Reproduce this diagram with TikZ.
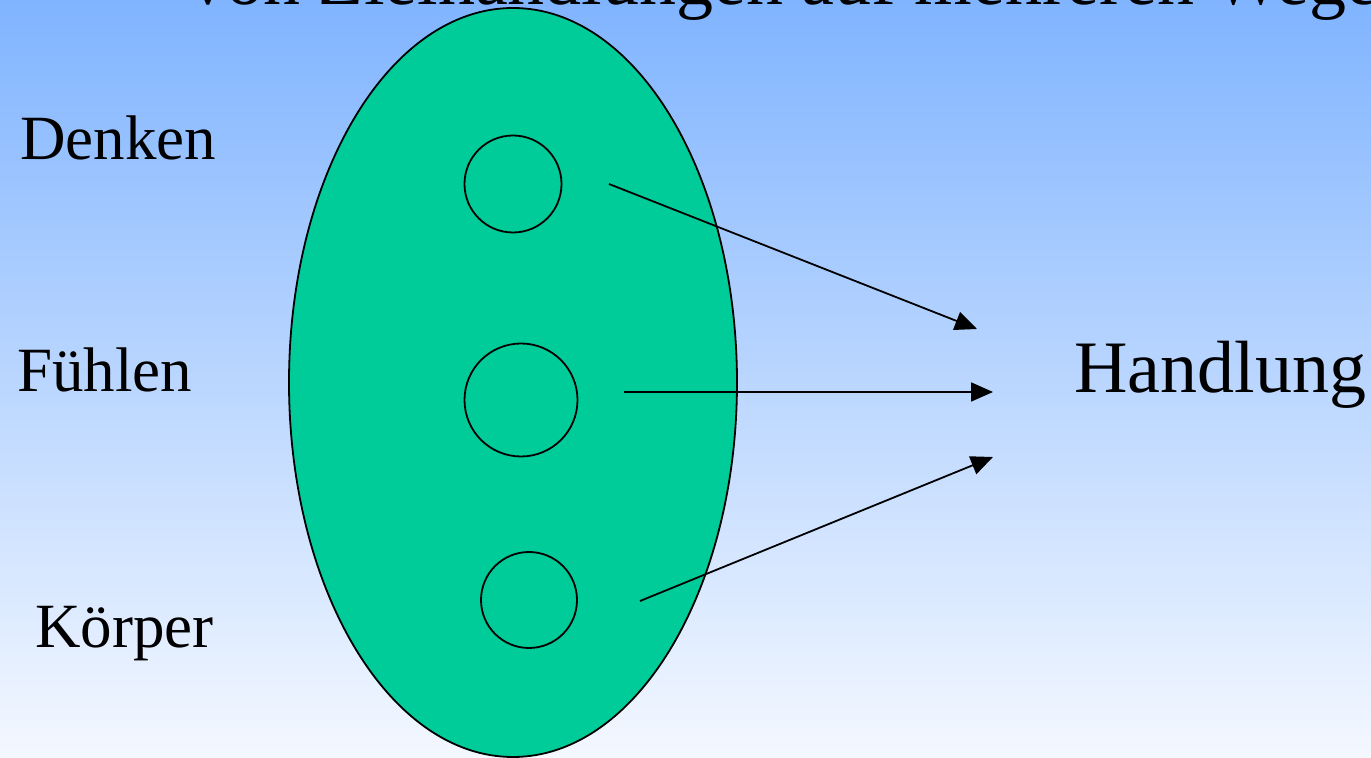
\documentclass[tikz,border=0pt]{standalone}
\usepackage{fontspec}
\setmainfont{Liberation Serif}
\usetikzlibrary{arrows.meta}
\definecolor{bgtop}{RGB}{128,180,255}
\definecolor{bgbot}{RGB}{244,248,255}
\definecolor{blob}{RGB}{0,204,153}
\tikzset{
  lbl/.style={anchor=base west, inner sep=0pt, font=\fontsize{31.5pt}{36pt}\selectfont},
  big/.style={anchor=base west, inner sep=0pt, font=\fontsize{37pt}{42pt}\selectfont},
  ring/.style={circle, draw=black, line width=0.9pt, inner sep=0pt},
  arr/.style={line width=0.9pt, -{Triangle[length=11pt,width=9.5pt]}}
}
\begin{document}
\begin{tikzpicture}[x=0.5pt,y=-0.5pt]
\useasboundingbox (0,0) rectangle (1371,758);
\clip (0,0) rectangle (1371,758);
\shade[top color=bgtop, bottom color=bgbot] (0,0) rectangle (1371,758);
\node[big] (title) at (189,5) {von Zielhandlungen auf mehreren Wegen};
\draw[fill=blob, line width=0.9pt] (513,382.5) ellipse [x radius=224, y radius=374.5];
\node[ring, minimum size=48.5pt] (c1) at (513,184) {};
\node[ring, minimum size=56.5pt] (c2) at (521,400) {};
\node[ring, minimum size=48pt] (c3) at (529,600) {};
\node[lbl] (denken) at (20,160) {Denken};
\node[lbl] (fuehlen) at (17,392) {Fühlen};
\node[lbl] (koerper) at (35,648) {Körper};
\node[big] (handlung) at (1074,393) {Handlung};
\coordinate (s1) at (609,184);
\coordinate (e1) at (977,329);
\coordinate (s2) at (624,392);
\coordinate (e2) at (993,392);
\coordinate (s3) at (640,601);
\coordinate (e3) at (993,457);
\draw[arr] (s1) -- (e1);
\draw[arr] (s2) -- (e2);
\draw[arr] (s3) -- (e3);
\end{tikzpicture}
\end{document}
